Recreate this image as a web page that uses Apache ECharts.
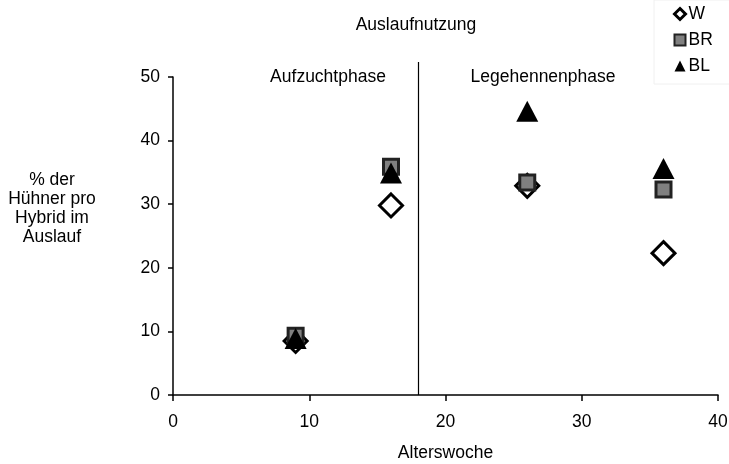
<!DOCTYPE html>
<html><head><meta charset="utf-8">
<script src="https://cdn.jsdelivr.net/npm/echarts@6/dist/echarts.min.js"></script>
<style>html,body{margin:0;padding:0;background:#fff}#c{width:729px;height:464px}</style>
</head><body><div id="c"></div>
<script>
const weeks = [9, 16, 26, 36];
const W  = [8.5, 29.8, 32.9, 22.3];
const BR = [9.3, 35.9, 33.4, 32.3];
const BL = [8.9, 34.9, 44.6, 35.6];
const xTicks = [0, 10, 20, 30, 40];
const yTicks = [0, 10, 20, 30, 40, 50];
const phaseBoundary = 18;

const font = 'Liberation Sans, Arial, sans-serif';
const fs = 17.5;
const chart = echarts.init(document.getElementById('c'), null, {renderer: 'canvas'});
const pairs = arr => weeks.map((w, i) => [w, arr[i]]);

chart.setOption({
  animation: false,
  textStyle: {fontFamily: font, color: '#000'},
  legend: {
    orient: 'vertical', left: 654, top: 0, itemGap: 8, itemWidth: 11, itemHeight: 11,
    borderColor: '#f0f0f0', borderWidth: 1, padding: [5, 17, 9, 19],
    textStyle: {fontFamily: font, fontSize: fs, color: '#000', padding: [0, 0, 0, -2]},
    data: [
      {name: 'W', icon: 'diamond', itemStyle: {color: '#fff', borderColor: '#000', borderWidth: 3}},
      {name: 'BR', icon: 'rect', itemStyle: {color: '#808080', borderColor: '#222', borderWidth: 2}},
      {name: 'BL', icon: 'triangle', itemStyle: {color: '#000', borderWidth: 0}}
    ]
  },
  grid: {left: 173, right: 11, top: 77, bottom: 69, containLabel: false, outerBoundsMode: 'none'},
  xAxis: {
    type: 'value', min: 0, max: 40, interval: 10,
    name: 'Alterswoche', nameLocation: 'middle', nameGap: 49,
    nameTextStyle: {fontFamily: font, fontSize: fs, color: '#000'},
    axisLine: {show: true, onZero: false, lineStyle: {color: '#000', width: 1.5}},
    axisTick: {show: true, inside: false, length: 6, lineStyle: {color: '#000', width: 1.5}},
    axisLabel: {fontFamily: font, fontSize: fs, color: '#000', margin: 18},
    splitLine: {show: false}
  },
  yAxis: {
    type: 'value', min: 0, max: 50, interval: 10,
    axisLine: {show: true, lineStyle: {color: '#000', width: 1.5}},
    axisTick: {show: true, inside: false, length: 5, lineStyle: {color: '#000', width: 1.5}},
    axisLabel: {fontFamily: font, fontSize: fs, color: '#000', margin: 13},
    splitLine: {show: false}
  },
  graphic: [
    {type: 'text', style: {text: 'Auslaufnutzung', x: 416, y: 25, align: 'center', verticalAlign: 'middle',
      fontFamily: font, fontSize: fs, fill: '#000'}},
    {type: 'text', style: {text: '% der\nHühner pro\nHybrid im\nAuslauf',
      x: 52, y: 209, align: 'center', verticalAlign: 'middle', fontFamily: font, fontSize: fs, lineHeight: 19, fill: '#000'}},
    {type: 'text', style: {text: 'Aufzuchtphase', x: 328, y: 77, align: 'center', verticalAlign: 'middle', fontFamily: font, fontSize: fs, fill: '#000'}},
    {type: 'text', style: {text: 'Legehennenphase', x: 543, y: 77, align: 'center', verticalAlign: 'middle', fontFamily: font, fontSize: fs, fill: '#000'}}
  ],
  series: [
    {name: 'W', type: 'scatter', symbol: 'diamond', symbolSize: 23, z: 2,
      itemStyle: {color: '#fff', borderColor: '#000', borderWidth: 3, opacity: 1},
      data: pairs(W),
      markLine: {silent: true, symbol: 'none', label: {show: false},
        lineStyle: {color: '#000', width: 1.2, type: 'solid'},
        data: [[{coord: [phaseBoundary, 0]}, {coord: [phaseBoundary, 50], y: 62}]]}},
    {name: 'BR', type: 'scatter', symbol: 'rect', symbolSize: 15, z: 3,
      itemStyle: {color: '#808080', borderColor: '#222', borderWidth: 3, opacity: 1},
      data: pairs(BR)},
    {name: 'BL', type: 'scatter', symbol: 'triangle', symbolSize: [22, 21], z: 4,
      itemStyle: {color: '#000', opacity: 1},
      data: pairs(BL)}
  ]
});
</script></body></html>
